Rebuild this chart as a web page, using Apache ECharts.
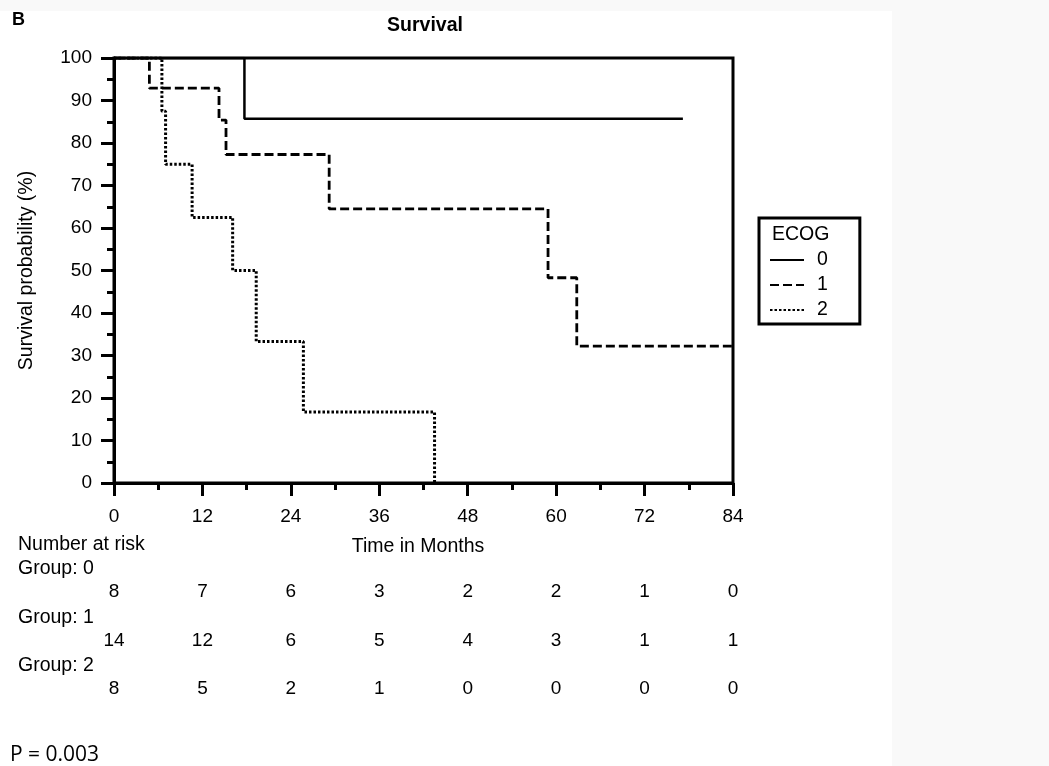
<!DOCTYPE html>
<html>
<head>
<meta charset="utf-8">
<script src="https://cdn.jsdelivr.net/npm/echarts@6/dist/echarts.min.js"></script>
<style>
  html, body { margin: 0; padding: 0; background: #f9f9f9; }
  #chart { width: 1049px; height: 766px; }
</style>
</head>
<body>
<div id="chart"></div>
<script>
// ---- data ----
const panelLabel = 'B';
const chartTitle = 'Survival';
const yTitle = 'Survival probability (%)';
const xTitle = 'Time in Months';
const legendTitle = 'ECOG';
const groupNames = ['0', '1', '2'];
const group0 = [[0, 100], [17.7, 85.7], [77.2, 85.7]];
const group1 = [[0, 100], [4.8, 92.9], [14.25, 85.4], [15.2, 77.3], [29.2, 64.5], [58.9, 48.3], [62.8, 32.2], [84, 32.2]];
const group2 = [[0, 100], [6.5, 87.5], [7.0, 75], [10.6, 62.5], [16.1, 50], [19.3, 33.3], [25.7, 16.7], [43.5, 0]];
const riskTimes = [0, 12, 24, 36, 48, 60, 72, 84];
const risk0 = [8, 7, 6, 3, 2, 2, 1, 0];
const risk1 = [14, 12, 6, 5, 4, 3, 1, 1];
const risk2 = [8, 5, 2, 1, 0, 0, 0, 0];
const riskRowLabels = ['Group: 0', 'Group: 1', 'Group: 2'];
const riskHeader = 'Number at risk';
const pValueText = 'P = 0.003';

// ---- chart ----
const FONT = '"Liberation Sans", Arial, sans-serif';
const TXT = 19.5;
const NUM = 19;
const chart = echarts.init(document.getElementById('chart'), null, { renderer: 'canvas' });

const riskRows = [risk0, risk1, risk2];
const riskData = [];
riskRows.forEach((row, r) => row.forEach((v, i) => riskData.push([riskTimes[i], r, v])));

const lineBase = { type: 'line', step: 'end', symbol: 'none', xAxisIndex: 0, yAxisIndex: 0, z: 1, itemStyle: { color: '#000' } };

const option = {
  backgroundColor: '#f9f9f9',
  animation: false,
  textStyle: { fontFamily: FONT, color: '#000' },
  grid: [
    { left: 114, right: 316, top: 58, bottom: 283, show: true, borderColor: '#000', borderWidth: 3, backgroundColor: 'transparent', z: 3 },
    { left: 114, right: 316, top: 592, height: 97, show: false }
  ],
  xAxis: [
    {
      type: 'value', gridIndex: 0, min: 0, max: 84, interval: 12,
      axisLine: { show: true, lineStyle: { color: '#000', width: 3 } },
      axisTick: { show: true, length: 13, lineStyle: { color: '#000', width: 3 } },
      minorTick: { show: true, splitNumber: 2, length: 7, lineStyle: { color: '#000', width: 3 } },
      splitLine: { show: false },
      axisLabel: { fontSize: NUM, color: '#000', margin: 24, fontFamily: FONT }
    },
    { type: 'value', gridIndex: 1, min: 0, max: 84, show: false }
  ],
  yAxis: [
    {
      type: 'value', gridIndex: 0, min: 0, max: 100, interval: 10,
      axisLine: { show: true, lineStyle: { color: '#000', width: 3 } },
      axisTick: { show: true, length: 13, lineStyle: { color: '#000', width: 3 } },
      minorTick: { show: true, splitNumber: 2, length: 7, lineStyle: { color: '#000', width: 3 } },
      splitLine: { show: false },
      axisLabel: { fontSize: NUM, color: '#000', margin: 22, fontFamily: FONT },
      name: yTitle, nameLocation: 'middle', nameGap: 77,
      nameTextStyle: { fontSize: TXT, color: '#000', fontFamily: FONT }
    },
    { type: 'value', gridIndex: 1, min: 0, max: 2, inverse: true, show: false }
  ],
  legend: {
    data: groupNames,
    orient: 'vertical',
    left: 759, top: 218,
    padding: [32, 32, 4, 10],
    itemWidth: 34, itemHeight: 14, itemGap: 5,
    borderColor: '#000', borderWidth: 3, borderRadius: 0,
    backgroundColor: '#fff',
    itemStyle: { color: 'transparent', borderWidth: 0 },
    lineStyle: { color: '#000' },
    textStyle: { fontSize: TXT, color: '#000', fontFamily: FONT, padding: [0, 0, 0, 8] }
  },
  series: [
    Object.assign({}, lineBase, { name: groupNames[0], data: group0, lineStyle: { color: '#000', width: 2.5, type: 'solid' } }),
    Object.assign({}, lineBase, { name: groupNames[1], data: group1, lineStyle: { color: '#000', width: 2.8, type: [9, 4] } }),
    Object.assign({}, lineBase, { name: groupNames[2], data: group2, lineStyle: { color: '#000', width: 3, type: [2.5, 2] } }),
    {
      type: 'scatter', name: 'risk', xAxisIndex: 1, yAxisIndex: 1,
      data: riskData, symbol: 'rect', symbolSize: 1, itemStyle: { color: '#fff', opacity: 1 },
      label: { show: true, position: 'inside', formatter: p => String(p.value[2]), fontSize: NUM, color: '#000', opacity: 1, textBorderWidth: 0, fontFamily: FONT },
      emphasis: { disabled: true },
      silent: true
    }
  ],
  graphic: [
    { type: 'rect', shape: { x: 0, y: 11, width: 892, height: 755 }, style: { fill: '#fff' }, z: -10, silent: true },
    { type: 'text', x: 12, y: 20, style: { text: panelLabel, font: 'bold 18px ' + FONT, fill: '#000', textAlign: 'left', textVerticalAlign: 'middle' } },
    { type: 'text', x: 425, y: 26, style: { text: chartTitle, font: 'bold 19.5px ' + FONT, fill: '#000', textAlign: 'center', textVerticalAlign: 'middle' } },
    { type: 'text', x: 418, y: 547, style: { text: xTitle, font: TXT + 'px ' + FONT, fill: '#000', textAlign: 'center', textVerticalAlign: 'middle' } },
    { type: 'text', x: 18, y: 545, style: { text: riskHeader, font: TXT + 'px ' + FONT, fill: '#000', textAlign: 'left', textVerticalAlign: 'middle' } },
    { type: 'text', x: 18, y: 569, style: { text: riskRowLabels[0], font: TXT + 'px ' + FONT, fill: '#000', textAlign: 'left', textVerticalAlign: 'middle' } },
    { type: 'text', x: 18, y: 618, style: { text: riskRowLabels[1], font: TXT + 'px ' + FONT, fill: '#000', textAlign: 'left', textVerticalAlign: 'middle' } },
    { type: 'text', x: 18, y: 666, style: { text: riskRowLabels[2], font: TXT + 'px ' + FONT, fill: '#000', textAlign: 'left', textVerticalAlign: 'middle' } },
    { type: 'text', x: 772, y: 235, z: 100, style: { text: legendTitle, font: TXT + 'px ' + FONT, fill: '#000', textAlign: 'left', textVerticalAlign: 'middle' } },
    { type: 'text', x: 10, y: 755, style: { text: pValueText, font: '21px "Open Sans", "Noto Sans", sans-serif', fill: '#000', textAlign: 'left', textVerticalAlign: 'middle' } }
  ]
};
chart.setOption(option);
</script>
</body>
</html>
